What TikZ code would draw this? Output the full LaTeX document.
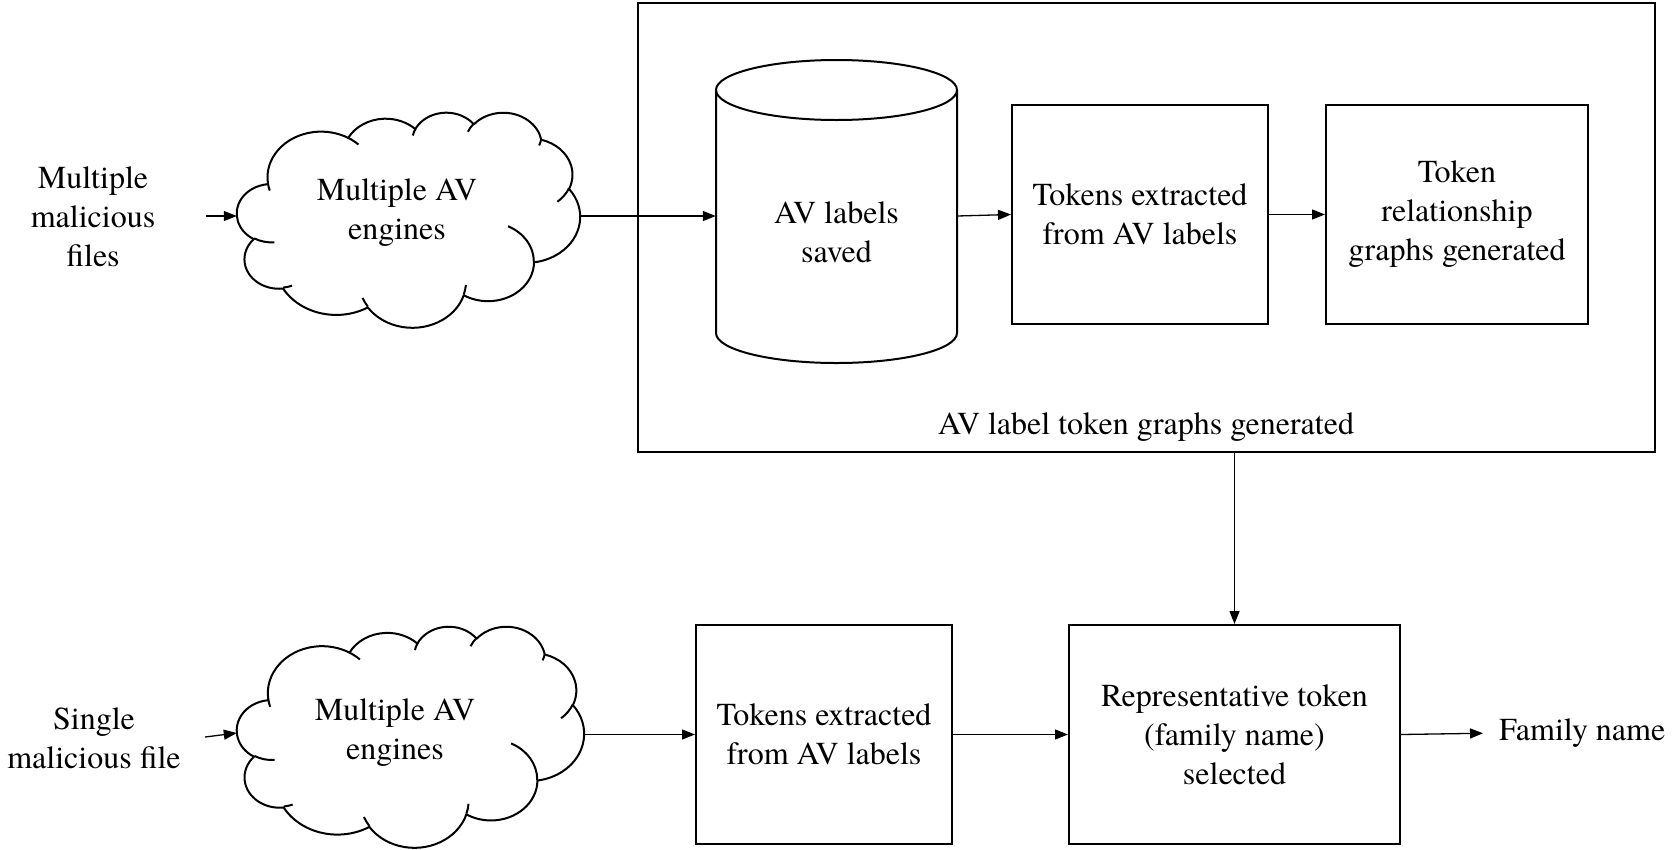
\documentclass[tikz,border=0pt]{standalone}
\usepackage{fontspec}
\setmainfont{texgyretermes}[Extension=.otf,UprightFont=*-regular,BoldFont=*-bold,ItalicFont=*-italic,BoldItalicFont=*-bolditalic]
\usetikzlibrary{arrows.meta}
% Office-style cloud arc: wR hR startAngle sweep (visual angles, y down)
\newcommand\oarc[4]{arc[start angle={atan2((#1)*sin(#3),(#2)*cos(#3))}, delta angle={mod(atan2((#1)*sin((#3)+(#4)),(#2)*cos((#3)+(#4)))-atan2((#1)*sin(#3),(#2)*cos(#3))+720,360)}, x radius=#1, y radius=#2]}
\newcommand\cloudoutline{(390,1437)
  \oarc{675.3}{919.0}{-190.4875}{123.7805}
  \oarc{533.3}{726.7}{-144.1024}{89.9452}
  \oarc{436.5}{594.5}{-145.8079}{99.7230}
  \oarc{485.7}{659.5}{-130.9861}{117.2417}
  \oarc{533.3}{727.3}{-78.7089}{109.0269}
  \oarc{677.5}{922.0}{-46.2673}{130.2690}
  \oarc{578.5}{786.7}{0.6250}{114.0333}
  \oarc{675.2}{921.5}{22.4516}{115.1726}
  \oarc{772.0}{1054.3}{66.2426}{75.7110}
  \oarc{436.0}{591.8}{-274.9421}{146.7356}
  \oarc{434.5}{594.5}{-246.8285}{152.5189} -- cycle}
\newcommand\cloudcurls{(469.3,2617.7) \oarc{434.5}{594.5}{86.7420}{26.4295}
  (692.8,3489.9) \oarc{436.0}{591.8}{73.6105}{11.4475}
  (1647.8,3909.0) \oarc{675.2}{921.5}{137.6242}{14.0811}
  (2882.7,3475.1) \oarc{675.2}{921.5}{6.4533}{15.9984}
  (3412.9,2295.4) \oarc{578.5}{786.7}{-70.2924}{70.9174}
  (4179.8,1535.4) \oarc{533.3}{727.3}{30.3180}{27.7515}
  (3832.4,542.6) \oarc{485.7}{659.5}{13.7443}{14.8589}
  (2907.8,395.2) \oarc{485.7}{659.5}{-149.1815}{18.1954}
  (2214.1,472.0) \oarc{436.5}{594.5}{-163.4943}{17.6864}
  (1400.0,519.2) \oarc{675.3}{919.0}{-66.7070}{12.3194}
  (412.7,1578.9) \oarc{675.3}{919.0}{157.6544}{11.8582}}
\begin{document}
\begin{tikzpicture}[x=1pt,y=-1pt,
  font=\fontsize{32}{39}\selectfont,
  box/.style={draw,line width=2pt,align=center,inner sep=0pt},
  txt/.style={align=center,inner sep=0pt},
  cl/.style={line width=2pt,line join=round},
  conn/.style={line width=1.3pt,-{Triangle[length=13pt,width=10pt]}}]
\useasboundingbox (0,0) rectangle (1675,849);
% top row
\node[txt] (mf) at (93,217) {Multiple\\malicious\\files};
\coordinate (a1) at (206,216);
\begin{scope}[shift={(237,112)},x=0.07940pt,y=-0.04977pt]
  \draw[cl] \cloudoutline;
  \draw[cl] \cloudcurls;
\end{scope}
\node[inner sep=0pt,minimum width=343pt,minimum height=214pt] (cl1) at (408.5,218) {};
\node[txt] (cl1t) at (397,213) {Multiple AV\\engines};
\node[draw,line width=2pt,minimum width=1017pt,minimum height=449pt,inner sep=0pt] (big) at (1146.5,227.5) {};
\node[txt] (bigl) at (1146,427) {AV label token graphs generated};
% cylinder
\draw[line width=2pt] (716,90) -- (716,333) arc[start angle=180,end angle=0,x radius=120.5,y radius=30] -- (957,90);
\draw[line width=2pt] (836.5,90) ellipse[x radius=120.5,y radius=30];
\node[minimum width=241pt,minimum height=240pt,inner sep=0pt] (cyl) at (836.5,216) {};
\node[txt] (cylt) at (836.5,232) {AV labels\\saved};
\node[box,minimum width=256pt,minimum height=219pt] (tok1) at (1140,214.5) {Tokens extracted\\from AV labels};
\node[box,minimum width=262pt,minimum height=219pt] (rel) at (1457,214.5) {Token\\relationship\\graphs generated};
% bottom row
\node[txt] (sf) at (94,738) {Single\\malicious file};
\coordinate (a2) at (205,737);
\begin{scope}[shift={(237,626)},x=0.08032pt,y=-0.05116pt]
  \draw[cl] \cloudoutline;
  \draw[cl] \cloudcurls;
\end{scope}
\node[inner sep=0pt,minimum width=347pt,minimum height=220pt] (cl2) at (410.5,735) {};
\node[txt] (cl2t) at (395,733) {Multiple AV\\engines};
\node[box,minimum width=256pt,minimum height=219pt] (tok2) at (824,734.5) {Tokens extracted\\from AV labels};
\node[box,minimum width=331pt,minimum height=219pt] (rep) at (1234.5,734.5) {Representative token\\(family name)\\selected};
\node[anchor=west,inner sep=0pt] (fam) at (1499,733) {Family name};
% connectors
\draw[conn] (a1) -- (cl1.west |- a1);
\draw[conn] (cl1.east |- cyl.west) -- (cyl.west);
\draw[conn] (cyl.east) -- (tok1.west);
\draw[conn] (tok1.east) -- (rel.west);
\draw[conn] (rep.north |- big.south) -- (rep.north);
\draw[conn] (a2) -- (cl2.west |- 0,733);
\draw[conn] (cl2.east |- tok2.west) -- (tok2.west);
\draw[conn] (tok2.east) -- (rep.west);
\draw[conn,shorten >=16pt] (rep.east) -- (fam.west);
\end{tikzpicture}
\end{document}
